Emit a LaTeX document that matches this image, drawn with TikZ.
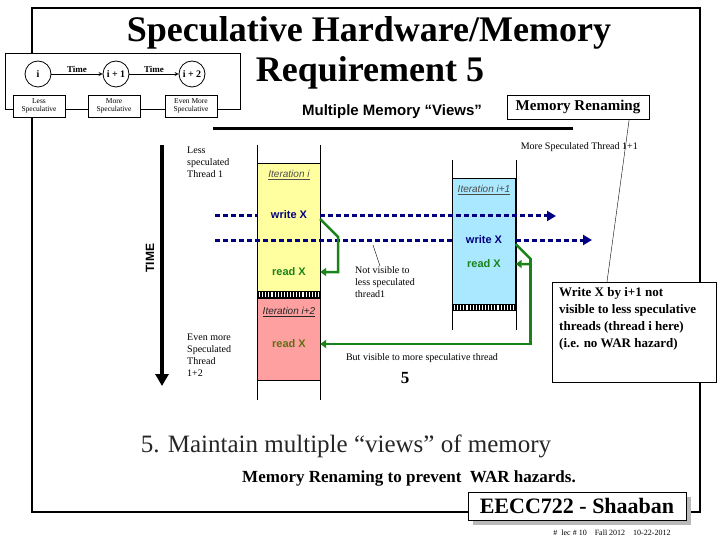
\documentclass[tikz,border=0pt]{standalone}
\usepackage{fontspec}
\setmainfont{Liberation Serif}
\setsansfont{Liberation Sans}
\usepackage{tikz}
\usetikzlibrary{shapes.geometric, arrows, arrows.meta, positioning, calc}

\definecolor{iteryellow}{RGB}{255,255,160}
\definecolor{iterpink}{RGB}{255,160,160}
\definecolor{itercyan}{RGB}{170,232,255}
\definecolor{viewnavy}{RGB}{0,0,128}
\definecolor{renamegreen}{RGB}{25,130,25}
\definecolor{readolive}{RGB}{95,110,20}

\begin{document}
\begin{tikzpicture}[x=1pt,y=-1pt]
        \tikzstyle{stage} = [circle, draw=black, thick, minimum size=26pt, inner sep=0pt, font=\fontsize{10}{12}\selectfont\bfseries]
        \tikzstyle{stagebox} = [rectangle, draw=black, fill=white, minimum width=52pt, minimum height=22pt, align=center, inner sep=1pt, font=\fontsize{7.5}{8.5}\selectfont]
        \tikzstyle{timelabel} = [inner sep=1.5pt, font=\fontsize{9}{10}\selectfont\bfseries]
        \tikzstyle{note} = [align=left, inner sep=0pt, font=\fontsize{10}{12}\selectfont]
        \tikzstyle{iterbox} = [rectangle, draw=black, minimum width=63pt, inner sep=0pt]
        \tikzstyle{itername} = [font=\fontsize{10}{11}\selectfont\sffamily\itshape, text=black!70]
        \tikzstyle{opname} = [font=\fontsize{11}{12}\selectfont\sffamily\bfseries]
        \tikzstyle{viewline} = [viewnavy, line width=3pt, dash pattern=on 5pt off 3pt]
        \tikzstyle{viewarrow} = [viewline, -{Triangle[width=10pt,length=9pt]}]
        \tikzstyle{renamearrow} = [renamegreen, line width=2.5pt, -{Triangle[width=8pt,length=6pt]}]
        \tikzstyle{arrow} = [thick,->,>=stealth]

        \useasboundingbox (0,0) rectangle (720,540);

        % slide frame
        \draw [line width=2pt] (32,8) rectangle (700,512);

        \node (title1) at (369,33) {\fontsize{36}{40}\selectfont\bfseries Speculative Hardware/Memory};
        \node (title2) at (370,73) {\fontsize{36}{40}\selectfont\bfseries Requirement 5};

        % inset: i, i+1, i+2
        \node (inset) [rectangle, draw=black, fill=white, minimum width=235pt, minimum height=56pt] at (122.5,81) {};
        \node (s0) [stage] at (38,74) {i};
        \node (s1) [stage] at (116,74) {i + 1};
        \node (s2) [stage] at (192,74) {i + 2};
        \draw [arrow] (s0) -- node[timelabel, above] {Time} (s1);
        \draw [arrow] (s1) -- node[timelabel, above] {Time} (s2);
        \node (b0) [stagebox] at (39,106) {Less\\Speculative};
        \node (b1) [stagebox] at (114,106) {More\\Speculative};
        \node (b2) [stagebox] at (191,106) {Even More\\Speculative};

        \node (views) at (392,112) {\fontsize{15}{16}\selectfont\sffamily\bfseries Multiple Memory “Views”};
        \draw [line width=3pt] (213,129) -- (573,129);
        \node (memren) [rectangle, draw=black, fill=white, minimum width=142pt, minimum height=24pt, font=\fontsize{15}{16}\selectfont\bfseries] at (578,107) {Memory Renaming};

        % time axis
        \draw [line width=4pt, -{Triangle[width=13pt,length=12pt]}] (162,145) -- (162,386);
        \node (time) [rotate=90, font=\fontsize{12}{13}\selectfont\sffamily\bfseries] at (150,258) {TIME};
        \node (lessthr) [note, anchor=north west] at (187,147) {Less\\speculated\\Thread 1};
        \node (eventhr) [note, anchor=north west] at (187,334) {Even more\\Speculated\\Thread\\1+2};
        \node (morethr) [note, anchor=north east] at (638,142) {More Speculated Thread 1+1};

        % thread lanes
        \draw (257,145) -- (257,400);
        \draw (320,145) -- (320,400);
        \draw (452,160) -- (452,330);
        \draw (516,160) -- (516,330);

        \node (yel) [iterbox, fill=iteryellow, minimum height=128pt] at (288.5,227) {};
        \node (pink) [iterbox, fill=iterpink, minimum height=82pt] at (288.5,339) {};
        \node (cy) [iterbox, fill=itercyan, minimum height=126pt] at (484,241) {};
        \fill (257,291) rectangle (320,298);
        \foreach \k in {0,...,19} \fill[white] ({259+\k*3.1},292) rectangle ++(1.1,5);
        \fill (452,304) rectangle (516,311);
        \foreach \k in {0,...,19} \fill[white] ({454+\k*3.1},305) rectangle ++(1.1,5);

        \node (it1) [itername] at (289,175) {\underline{Iteration i}};
        \node (wx1) [opname, text=viewnavy] at (289,215) {write X};
        \node (rx1) [opname, text=renamegreen] at (289,272) {read X};
        \node (it3) [itername, text=black!85] at (289,312) {\underline{Iteration i+2}};
        \node (rx3) [opname, text=readolive] at (289,344) {read X};
        \node (it2) [itername] at (484,190) {\underline{Iteration i+1}};
        \node (wx2) [opname, text=viewnavy] at (484,240) {write X};
        \node (rx2) [opname, text=renamegreen] at (484,264) {read X};

        % memory views
        \coordinate (va) at (215,216);
        \coordinate (vb) at (215,240);
        \draw [viewline] (va) -- (va -| yel.west);
        \draw [viewarrow] (va -| yel.east) -- (556,216);
        \draw [viewline] (vb) -- (vb -| cy.west);
        \draw [viewarrow] (vb -| cy.east) -- (592,240);

        % renaming
        \draw [renamearrow] ($(yel.east |- wx1)+(0,4)$) -- ++(18,18) |- (rx1 -| yel.east);
        \draw [renamearrow] ($(cy.east |- wx2)+(0,4)$) -- ++(15,15) coordinate (gb) |- (rx2 -| cy.east);
        \draw [renamearrow] (gb) |- (rx3 -| pink.east);

        \node (nv) [note, anchor=north west] at (355,266) {Not visible to\\less speculated\\thread1};
        \coordinate (nvtip) at (373,245);
        \draw (nvtip) -- ($(nv.north west)+(25,0)$);
        \node (butvis) [note] at (422,358) {But visible to more speculative thread};
        \node (five) [font=\fontsize{17}{18}\selectfont\bfseries] at (405,378) {5};

        % note box
        \node (wbox) [rectangle, draw=black, fill=white, minimum width=164pt, minimum height=100pt] at (634,332) {};
        \node (wtext) [anchor=north west, align=left, inner sep=0pt, font=\fontsize{13}{17}\selectfont\bfseries] at (559,287) {Write X by i+1 not\\visible to less speculative\\threads (thread i here)\\(i.e. no WAR hazard)};
        \draw ($(memren.south east)+(-20,0)$) -- ($(wbox.north)+(-27,0)$);

        % bottom
        \node (maintain) [text=black!85] at (346,446) {\fontsize{25}{28}\selectfont 5. Maintain multiple “views” of memory};
        \node (war) at (409,478) {\fontsize{17}{19}\selectfont\bfseries Memory Renaming to prevent\ \ WAR hazards.};
        \fill [gray!55] (473,497) rectangle (691,525);
        \node (course) [rectangle, draw=black, fill=white, minimum width=218pt, minimum height=28pt, font=\fontsize{22}{24}\selectfont\bfseries] at (577,506) {EECC722 - Shaaban};
        \node (lec) [font=\fontsize{8}{9}\selectfont] at (612,533) {\#\ \ lec \# 10\quad Fall 2012\quad 10-22-2012};
    \end{tikzpicture}
\end{document}
